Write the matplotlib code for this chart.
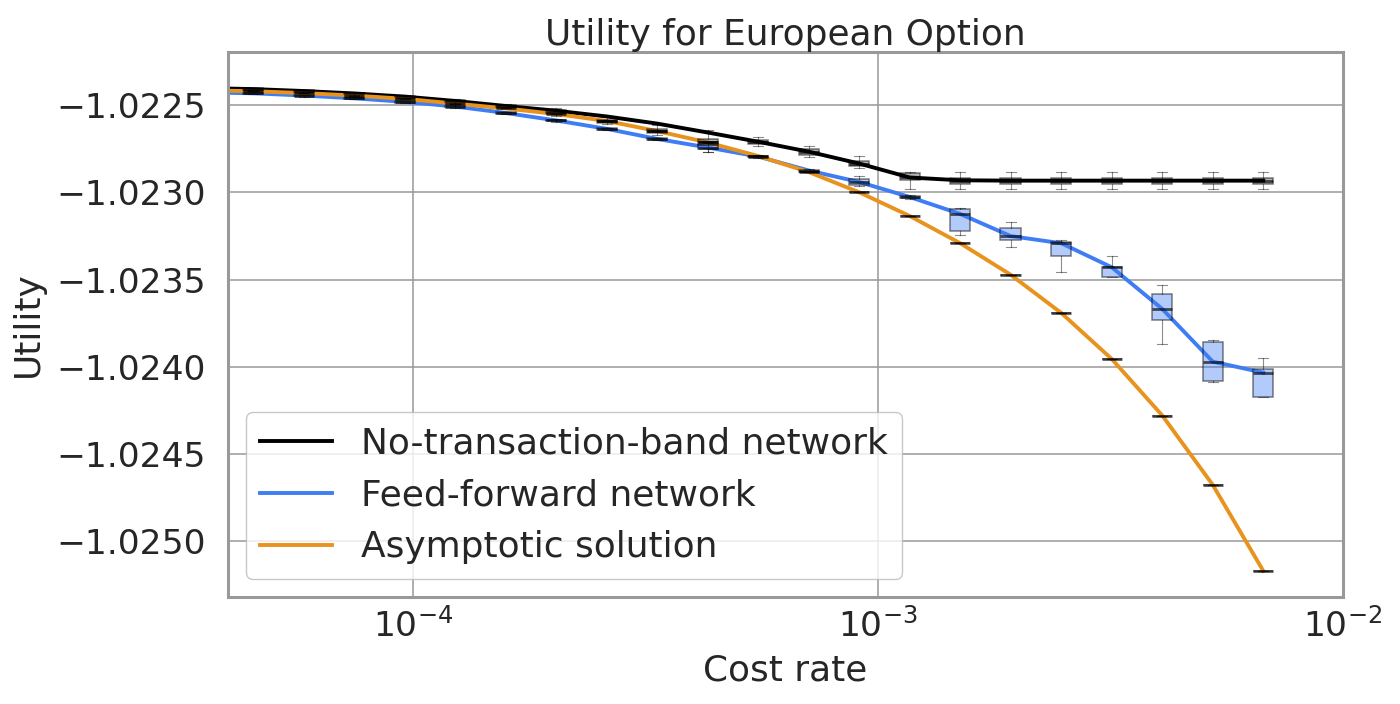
import matplotlib
matplotlib.use("Agg")
import matplotlib.pyplot as plt
from matplotlib import ticker
from matplotlib.colors import to_rgba

plt.rcParams.update({
    "font.family": "DejaVu Sans",
    "text.color": "#262626",
    "axes.labelcolor": "#262626",
    "xtick.color": "#262626",
    "ytick.color": "#262626",
    "axes.edgecolor": "#999999",
    "axes.linewidth": 2.2,
    "grid.color": "#999999",
    "grid.linewidth": 1.1,
})

# cost rates (log-spaced); the first one lies just left of the visible range
costs = [3.55e-5, 4.54e-5, 5.83e-5, 7.49e-5, 9.61e-5, 1.234e-4, 1.585e-4,
         2.035e-4, 2.613e-4, 3.355e-4, 4.307e-4, 5.531e-4, 7.102e-4, 9.119e-4,
         1.171e-3, 1.503e-3, 1.930e-3, 2.479e-3, 3.183e-3, 4.087e-3, 5.248e-3,
         6.738e-3]

# no-transaction-band network
ntb_line = [-1.022402, -1.022408, -1.022419, -1.022433, -1.022451, -1.022476,
            -1.022505, -1.022532, -1.022565, -1.022606, -1.022657, -1.022710,
            -1.022767, -1.022835, -1.022915, -1.022931, -1.022933, -1.022933,
            -1.022933, -1.022933, -1.022933, -1.022933]
ntb_hi = [-1.022393, -1.022399, -1.022411, -1.022425, -1.022442, -1.022465,
          -1.022491, -1.022517, -1.022565, -1.022614, -1.022643, -1.022685,
          -1.022735, -1.022790, -1.022882, -1.022882, -1.022882, -1.022882,
          -1.022882, -1.022882, -1.022882, -1.022882]
ntb_q3 = [-1.022398, -1.022404, -1.022415, -1.022429, -1.022447, -1.022471,
          -1.022501, -1.022528, -1.022583, -1.022639, -1.022694, -1.022700,
          -1.022752, -1.022819, -1.022891, -1.022918, -1.022918, -1.022918,
          -1.022918, -1.022918, -1.022918, -1.022918]
ntb_med = [-1.022402, -1.022408, -1.022419, -1.022433, -1.022451, -1.022476,
           -1.022505, -1.022537, -1.022591, -1.022649, -1.022712, -1.022714,
           -1.022766, -1.022835, -1.022912, -1.022933, -1.022933, -1.022933,
           -1.022933, -1.022933, -1.022933, -1.022933]
ntb_q1 = [-1.022406, -1.022412, -1.022423, -1.022438, -1.022455, -1.022482,
          -1.022511, -1.022545, -1.022603, -1.022662, -1.022729, -1.022723,
          -1.022786, -1.022849, -1.022929, -1.022952, -1.022952, -1.022952,
          -1.022952, -1.022952, -1.022952, -1.022952]
ntb_lo = [-1.022411, -1.022416, -1.022428, -1.022442, -1.022459, -1.022488,
          -1.022519, -1.022560, -1.022611, -1.022671, -1.022766, -1.022737,
          -1.022795, -1.022861, -1.022983, -1.022981, -1.022981, -1.022981,
          -1.022981, -1.022981, -1.022981, -1.022981]

# feed-forward network
ffn_med = [-1.022427, -1.022432, -1.022445, -1.022461, -1.022481, -1.022508,
           -1.022545, -1.022588, -1.022636, -1.022694, -1.022743, -1.022795,
           -1.022875, -1.022941, -1.023027, -1.023124, -1.023251, -1.023292,
           -1.023430, -1.023669, -1.023971, -1.024034]
ffn_hi = [-1.022421, -1.022426, -1.022439, -1.022455, -1.022475, -1.022502,
          -1.022539, -1.022582, -1.022630, -1.022688, -1.022717, -1.022786,
          -1.022869, -1.022907, -1.023018, -1.023092, -1.023169, -1.023274,
          -1.023364, -1.023533, -1.023849, -1.023948]
ffn_q3 = [-1.022423, -1.022428, -1.022441, -1.022457, -1.022477, -1.022504,
          -1.022541, -1.022584, -1.022632, -1.022690, -1.022726, -1.022791,
          -1.022872, -1.022925, -1.023023, -1.023097, -1.023206, -1.023283,
          -1.023427, -1.023585, -1.023858, -1.024011]
ffn_q1 = [-1.022431, -1.022436, -1.022449, -1.022465, -1.022485, -1.022512,
          -1.022549, -1.022592, -1.022640, -1.022698, -1.022753, -1.022799,
          -1.022881, -1.022958, -1.023031, -1.023220, -1.023274, -1.023364,
          -1.023484, -1.023734, -1.024080, -1.024175]
ffn_lo = [-1.022433, -1.022438, -1.022451, -1.022467, -1.022487, -1.022514,
          -1.022551, -1.022594, -1.022642, -1.022700, -1.022766, -1.022803,
          -1.022886, -1.022964, -1.023036, -1.023245, -1.023312, -1.023459,
          -1.023486, -1.023872, -1.024089, -1.024176]

# asymptotic solution (deterministic)
asym = [-1.022415, -1.022420, -1.022431, -1.022445, -1.022464, -1.022491,
        -1.022519, -1.022551, -1.022591, -1.022649, -1.022714, -1.022792,
        -1.022884, -1.023000, -1.023136, -1.023292, -1.023473, -1.023692,
        -1.023956, -1.024280, -1.024678, -1.025171]

BLACK = "#000000"
BLUE = "#3f7df5"
ORANGE = "#e8931e"


def stats(lo, q1, med, q3, hi):
    return [dict(whislo=a, q1=b, med=c, q3=d, whishi=e, fliers=[])
            for a, b, c, d, e in zip(lo, q1, med, q3, hi)]


fig = plt.figure(figsize=(14, 7.04), dpi=100)
ax = fig.add_axes([0.1627, 0.1524, 0.7966, 0.7733])
ax.set_xscale("log")

ax.plot(costs, ntb_line, color=BLACK, lw=2.8, label="No-transaction-band network", zorder=2)
ax.plot(costs, ffn_med, color=BLUE, lw=2.8, label="Feed-forward network", zorder=2)
ax.plot(costs, asym, color=ORANGE, lw=2.8, label="Asymptotic solution", zorder=2)

widths = [0.099 * c for c in costs]
groups = [
    (stats(ntb_lo, ntb_q1, ntb_med, ntb_q3, ntb_hi), BLACK, 0.3),
    (stats(ffn_lo, ffn_q1, ffn_med, ffn_q3, ffn_hi), BLUE, 0.4),
    (stats(asym, asym, asym, asym, asym), ORANGE, 0.4),
]
for st, col, a in groups:
    ax.bxp(st, positions=costs, widths=widths, patch_artist=True,
           showfliers=False, manage_ticks=False, zorder=3,
           boxprops=dict(facecolor=to_rgba(col, a), edgecolor=(0, 0, 0, 0.5), linewidth=1.1),
           medianprops=dict(color=(0, 0, 0, 0.65), linewidth=2.0),
           whiskerprops=dict(color=(0, 0, 0, 0.45), linewidth=0.8),
           capprops=dict(color=(0, 0, 0, 0.45), linewidth=0.8))

ax.set_xlim(4e-5, 1e-2)
ax.set_ylim(-1.025319, -1.022197)
ax.xaxis.set_minor_locator(ticker.NullLocator())
ax.yaxis.set_major_locator(ticker.MultipleLocator(0.0005))
ax.yaxis.set_major_formatter(ticker.ScalarFormatter(useOffset=False))
ax.grid(True, which="major")
ax.set_axisbelow(True)
ax.tick_params(axis="both", which="both", length=0, labelsize=24.8)
ax.tick_params(axis="y", pad=16)
ax.tick_params(axis="x", pad=8)

ax.set_title("Utility for European Option", fontsize=25.8, pad=4)
ax.set_xlabel("Cost rate", fontsize=25.8, labelpad=7)
ax.set_ylabel("Utility", fontsize=25.8, labelpad=8)

ax.legend(loc="lower left", fontsize=25.9, framealpha=0.8, edgecolor="#bbbbbb")

fig.savefig("out.png", dpi=100)
